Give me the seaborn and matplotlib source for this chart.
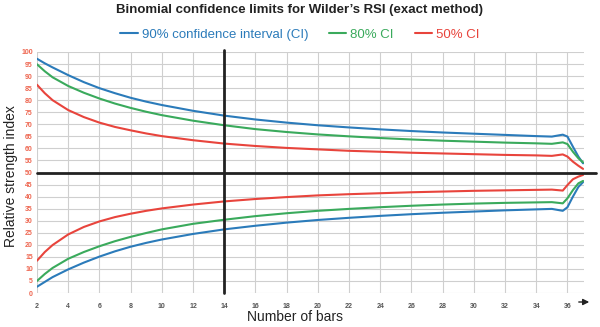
import matplotlib
matplotlib.use("Agg")
import matplotlib.pyplot as plt
from matplotlib.lines import Line2D
import seaborn as sns
import pandas as pd

# ---- data ----
bars = [2, 2.5, 3, 4, 5, 6, 7, 8, 9, 10, 12, 14, 16, 18, 20, 22, 24, 26, 28, 30, 32, 34,
        35, 35.7, 36, 36.35, 36.7, 37]
ci90_upper = [97.2, 95.3, 93.6, 90.4, 87.5, 85.0, 82.9, 81.0, 79.4, 78.0, 75.6, 73.6, 72.0,
              70.7, 69.6, 68.7, 67.9, 67.2, 66.6, 66.1, 65.6, 65.1, 64.9, 65.7, 64.9, 60.7,
              56.6, 53.8]
ci80_upper = [94.9, 92.0, 89.5, 85.9, 83.1, 80.7, 78.6, 76.8, 75.2, 73.8, 71.5, 69.6, 68.0,
              66.8, 65.8, 65.0, 64.3, 63.7, 63.2, 62.8, 62.4, 62.1, 61.9, 62.5, 61.8, 58.6,
              55.9, 54.2]
ci50_upper = [86.4, 82.9, 80.0, 75.9, 73.0, 70.7, 68.9, 67.5, 66.2, 65.1, 63.4, 62.0, 61.0,
              60.2, 59.6, 59.0, 58.6, 58.2, 57.9, 57.6, 57.3, 57.1, 56.9, 57.5, 56.6, 54.5,
              52.8, 51.5]
ci50_lower = [13.4, 17.0, 19.9, 24.3, 27.4, 29.7, 31.5, 32.9, 34.1, 35.1, 36.7, 38.0, 39.0,
              39.8, 40.5, 41.0, 41.4, 41.8, 42.1, 42.4, 42.6, 42.8, 42.9, 42.5, 44.8, 47.2,
              48.3, 49.0]
ci80_lower = [5.0, 7.9, 10.4, 14.2, 17.0, 19.4, 21.5, 23.3, 24.9, 26.4, 28.7, 30.4, 31.9,
              33.1, 34.1, 34.9, 35.6, 36.2, 36.7, 37.1, 37.4, 37.6, 37.7, 37.2, 39.3, 42.7,
              45.5, 46.5]
ci90_lower = [2.6, 4.6, 6.6, 9.8, 12.6, 15.1, 17.3, 19.2, 20.8, 22.2, 24.5, 26.4, 27.9,
              29.2, 30.3, 31.2, 32.0, 32.7, 33.3, 33.8, 34.3, 34.7, 34.9, 34.1, 35.6, 40.0,
              44.0, 46.0]

x_ticks = list(range(2, 37, 2))
y_ticks = list(range(0, 101, 5))
labels = ["90% confidence interval (CI)", "80% CI", "50% CI"]
colors = ["#2b7bba", "#3aaa5c", "#e8443c"]

rows = []
for lab, up, lo in [(labels[0], ci90_upper, ci90_lower),
                    (labels[1], ci80_upper, ci80_lower),
                    (labels[2], ci50_upper, ci50_lower)]:
    for b, u, l in zip(bars, up, lo):
        rows.append({"bars": b, "rsi": u, "ci": lab, "bound": "upper"})
        rows.append({"bars": b, "rsi": l, "ci": lab, "bound": "lower"})
df = pd.DataFrame(rows)

sns.set_style("white")
plt.rcParams["font.family"] = ["Liberation Sans", "DejaVu Sans"]

fig = plt.figure(figsize=(6, 3.27), dpi=100)
ax = fig.add_axes([37 / 600, 34 / 327, 547 / 600, 241 / 327])

sns.lineplot(data=df, x="bars", y="rsi", hue="ci", units="bound", estimator=None,
             palette=dict(zip(labels, colors)), hue_order=labels, linewidth=1.5,
             sort=False, legend=False, ax=ax)
for ln in ax.get_lines():
    ln.set_solid_joinstyle("round")
    ln.set_solid_capstyle("round")

ax.set_xlim(2, 37.06)
ax.set_ylim(0, 100)
ax.set_xticks(x_ticks)
ax.set_yticks(y_ticks)
ax.grid(True, color="#cfcfcf", linewidth=0.8)
ax.set_axisbelow(True)
for s in ax.spines.values():
    s.set_visible(False)
ax.tick_params(axis="both", length=0)
ax.tick_params(axis="y", labelsize=5, labelcolor="#ee6650", pad=3)
ax.tick_params(axis="x", labelsize=5, labelcolor="#555555", pad=7)
for t in ax.get_xticklabels():
    t.set_fontweight("bold")
for t in ax.get_yticklabels():
    t.set_fontweight("bold")
ax.set_xlabel("")
ax.set_ylabel("")

# reference lines
ax.plot([2, 37.85], [50, 50], color="#222222", linewidth=2, clip_on=False, zorder=5)
ax.axvline(14, ymin=0, ymax=1.01, color="#222222", linewidth=2, clip_on=False, zorder=5)

# arrow after last tick
ax.annotate("", xy=(592, 25), xytext=(576, 25), xycoords="figure pixels",
            textcoords="figure pixels",
            arrowprops=dict(arrowstyle="-|>", color="#222222", lw=1, mutation_scale=9))

fig.text(0.5, 0.968, "Binomial confidence limits for Wilder\u2019s RSI (exact method)",
         ha="center", va="center", fontsize=9.5, fontweight="bold", color="#222222")
fig.text(0.018, 0.462, "Relative strength index", rotation=90, ha="center", va="center",
         fontsize=10, color="#222222")
fig.text(0.492, 0.03, "Number of bars", ha="center", va="center", fontsize=10,
         color="#222222")

handles = [Line2D([], [], color=c, linewidth=1.5) for c in colors]
fig.legend(handles, labels, loc="center", bbox_to_anchor=(0.5, 0.893), ncol=3,
           frameon=False, fontsize=9.5, handlelength=1.3, handletextpad=0.3,
           columnspacing=1.6, labelcolor="linecolor")

fig.savefig("out.png", dpi=100)
